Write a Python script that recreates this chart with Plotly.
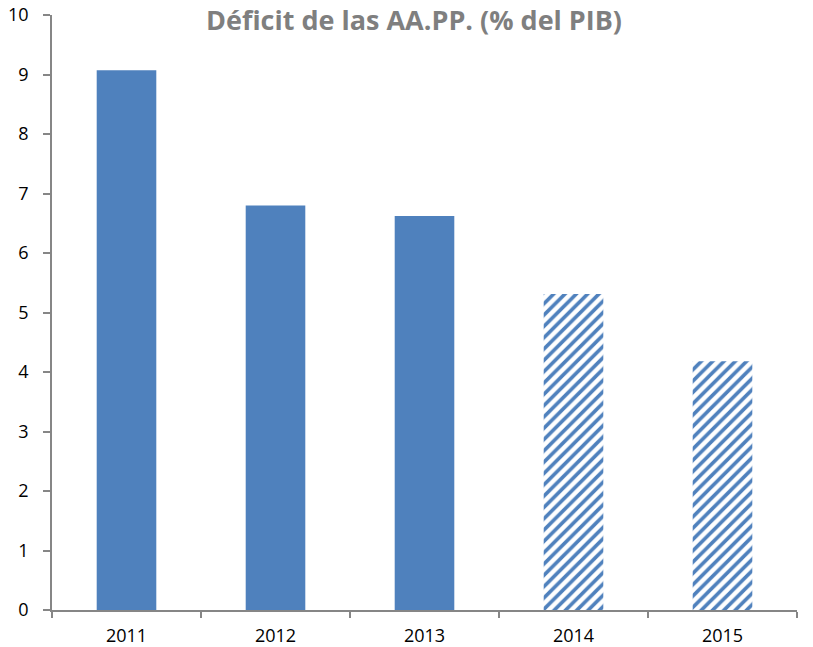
import plotly.graph_objects as go

anios = ["2011", "2012", "2013", "2014", "2015"]
deficit = [9.07, 6.8, 6.62, 5.31, 4.18]
previsto = [False, False, False, True, True]  # 2014-2015 rayado

azul = "#4F81BD"
gris_eje = "#868686"

fig = go.Figure()
fig.add_trace(go.Bar(
    x=anios,
    y=deficit,
    width=0.4,
    marker=dict(
        color=azul,
        line=dict(width=0),
        pattern=dict(
            shape=["" if not p else "/" for p in previsto],
            fillmode="replace",
            bgcolor="white",
            size=8,
            solidity=0.45,
        ),
    ),
    showlegend=False,
))

fig.update_layout(
    width=813,
    height=647,
    plot_bgcolor="white",
    paper_bgcolor="white",
    margin=dict(l=52, r=16, t=15, b=37),
    font=dict(family="Open Sans", size=18, color="#000000"),
    title=dict(
        text="<b>Déficit de las AA.PP. (% del PIB)</b>",
        x=414 / 813, xanchor="center",
        y=1 - 21 / 647, yanchor="middle",
        font=dict(family="Open Sans", size=27, color="#7F7F7F"),
    ),
)

fig.update_yaxes(
    range=[0, 10],
    tickmode="linear", tick0=0, dtick=1,
    showgrid=False, zeroline=False,
    showline=True, linecolor=gris_eje, linewidth=1.5,
    ticks="outside", ticklen=7, tickcolor=gris_eje, tickwidth=1.5,
    ticklabelstandoff=11, ticklabeloverflow="allow",
    automargin=False,
    tickfont=dict(size=18),
)
fig.update_xaxes(
    showgrid=False,
    showline=True, linecolor=gris_eje, linewidth=1.5,
    ticks="outside", ticklen=6, tickcolor=gris_eje, tickwidth=1.5,
    tickson="boundaries",
    ticklabelstandoff=9,
    automargin=False,
    tickfont=dict(size=18),
)

# sin el margen por defecto del body para que el gráfico ocupe toda la ventana
fig.write_html("out.html", config={"displayModeBar": False},
               post_script="document.body.style.margin='0';")
